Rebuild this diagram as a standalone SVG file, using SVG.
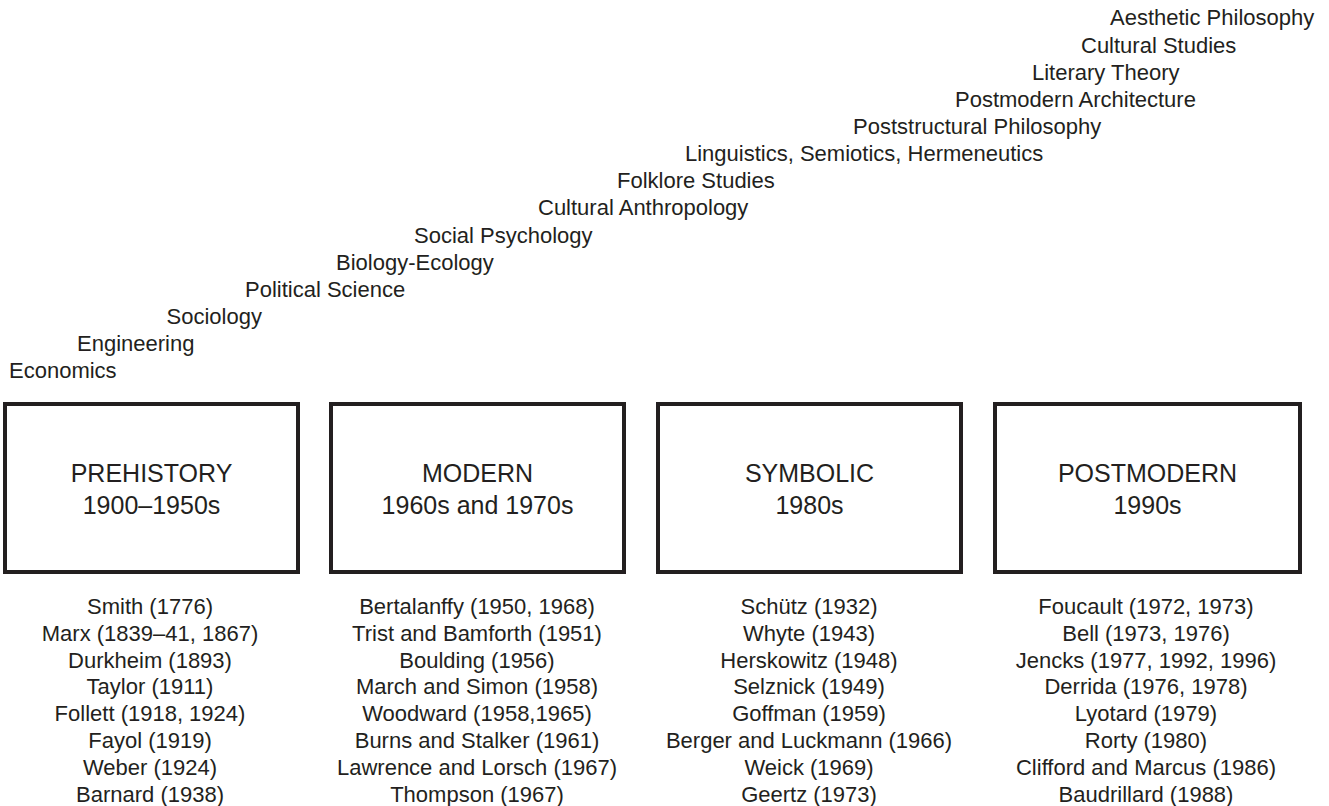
<svg xmlns="http://www.w3.org/2000/svg" width="1329" height="806" viewBox="0 0 1329 806">
  <style>
    text { font-family: "Liberation Sans", Arial, Helvetica, sans-serif; fill: #231f20; }
    .field { font-size: 22px; }
    .era-box { fill: #ffffff; stroke: #231f20; stroke-width: 4; }
    .era-title { font-size: 25px; text-anchor: middle; }
    .author { font-size: 22px; text-anchor: middle; }
  </style>
  <rect width="1329" height="806" fill="#ffffff"/>

  <!-- Disciplines, stepping up to the right -->
  <g id="disciplines" class="field">
    <text class="field" x="9" y="378.3">Economics</text>
    <text class="field" x="77" y="351.2">Engineering</text>
    <text class="field" x="166.5" y="324">Sociology</text>
    <text class="field" x="245" y="296.9">Political Science</text>
    <text class="field" x="336" y="269.7">Biology-Ecology</text>
    <text class="field" x="414" y="242.6">Social Psychology</text>
    <text class="field" x="538" y="215.4">Cultural Anthropology</text>
    <text class="field" x="617" y="188.3">Folklore Studies</text>
    <text class="field" x="685" y="161.1">Linguistics, Semiotics, Hermeneutics</text>
    <text class="field" x="853" y="134">Poststructural Philosophy</text>
    <text class="field" x="955" y="106.8">Postmodern Architecture</text>
    <text class="field" x="1032" y="79.7">Literary Theory</text>
    <text class="field" x="1081" y="52.5">Cultural Studies</text>
    <text class="field" x="1110" y="25.4">Aesthetic Philosophy</text>
  </g>

  <!-- Era: Prehistory -->
  <g id="prehistory">
    <rect class="era-box" x="5" y="404" width="293" height="168"/>
    <text class="era-title" x="151.5" y="481.7">PREHISTORY</text>
    <text class="era-title" x="151.5" y="514.3">1900–1950s</text>
    <g class="author">
      <text class="author" x="150" y="614">Smith (1776)</text>
      <text class="author" x="150" y="640.8">Marx (1839–41, 1867)</text>
      <text class="author" x="150" y="667.6">Durkheim (1893)</text>
      <text class="author" x="150" y="694.4">Taylor (1911)</text>
      <text class="author" x="150" y="721.2">Follett (1918, 1924)</text>
      <text class="author" x="150" y="748">Fayol (1919)</text>
      <text class="author" x="150" y="774.8">Weber (1924)</text>
      <text class="author" x="150" y="801.6">Barnard (1938)</text>
    </g>
  </g>

  <!-- Era: Modern -->
  <g id="modern">
    <rect class="era-box" x="331" y="404" width="293" height="168"/>
    <text class="era-title" x="477.5" y="481.7">MODERN</text>
    <text class="era-title" x="477.5" y="514.3">1960s and 1970s</text>
    <g class="author">
      <text class="author" x="477" y="614">Bertalanffy (1950, 1968)</text>
      <text class="author" x="477" y="640.8">Trist and Bamforth (1951)</text>
      <text class="author" x="477" y="667.6">Boulding (1956)</text>
      <text class="author" x="477" y="694.4">March and Simon (1958)</text>
      <text class="author" x="477" y="721.2">Woodward (1958,1965)</text>
      <text class="author" x="477" y="748">Burns and Stalker (1961)</text>
      <text class="author" x="477" y="774.8">Lawrence and Lorsch (1967)</text>
      <text class="author" x="477" y="801.6">Thompson (1967)</text>
    </g>
  </g>

  <!-- Era: Symbolic -->
  <g id="symbolic">
    <rect class="era-box" x="658" y="404" width="303" height="168"/>
    <text class="era-title" x="809.5" y="481.7">SYMBOLIC</text>
    <text class="era-title" x="809.5" y="514.3">1980s</text>
    <g class="author">
      <text class="author" x="809" y="614">Schütz (1932)</text>
      <text class="author" x="809" y="640.8">Whyte (1943)</text>
      <text class="author" x="809" y="667.6">Herskowitz (1948)</text>
      <text class="author" x="809" y="694.4">Selznick (1949)</text>
      <text class="author" x="809" y="721.2">Goffman (1959)</text>
      <text class="author" x="809" y="748">Berger and Luckmann (1966)</text>
      <text class="author" x="809" y="774.8">Weick (1969)</text>
      <text class="author" x="809" y="801.6">Geertz (1973)</text>
    </g>
  </g>

  <!-- Era: Postmodern -->
  <g id="postmodern">
    <rect class="era-box" x="995" y="404" width="305" height="168"/>
    <text class="era-title" x="1147.5" y="481.7">POSTMODERN</text>
    <text class="era-title" x="1147.5" y="514.3">1990s</text>
    <g class="author">
      <text class="author" x="1146" y="614">Foucault (1972, 1973)</text>
      <text class="author" x="1146" y="640.8">Bell (1973, 1976)</text>
      <text class="author" x="1146" y="667.6">Jencks (1977, 1992, 1996)</text>
      <text class="author" x="1146" y="694.4">Derrida (1976, 1978)</text>
      <text class="author" x="1146" y="721.2">Lyotard (1979)</text>
      <text class="author" x="1146" y="748">Rorty (1980)</text>
      <text class="author" x="1146" y="774.8">Clifford and Marcus (1986)</text>
      <text class="author" x="1146" y="801.6">Baudrillard (1988)</text>
    </g>
  </g>
</svg>
